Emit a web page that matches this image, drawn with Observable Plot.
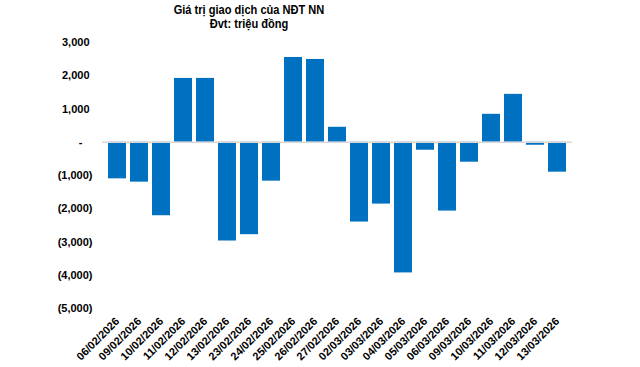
<!DOCTYPE html>
<html>
<head>
<meta charset="utf-8">
<script src="https://cdn.jsdelivr.net/npm/d3@7"></script>
<script src="https://cdn.jsdelivr.net/npm/@observablehq/plot@0.6"></script>
<style>
  html, body { margin: 0; padding: 0; background: #fff; }
  #wrap { position: relative; width: 640px; height: 367px; font-family: "Liberation Sans", Arial, sans-serif; }
  #title { position: absolute; left: 129px; width: 240px; top: 3px; text-align: center; font-weight: bold; font-size: 13.5px; line-height: 14px; color: #000; transform: scaleX(0.82); transform-origin: 120px 0; }
</style>
</head>
<body>
<div id="wrap">
  <div id="chart"></div>
  <div id="title">Giá trị giao dịch của NĐT NN<br>Đvt: triệu đồng</div>
</div>
<script>
const dates = ["06/02/2026","09/02/2026","10/02/2026","11/02/2026","12/02/2026","13/02/2026","23/02/2026","24/02/2026","25/02/2026","26/02/2026","27/02/2026","02/03/2026","03/03/2026","04/03/2026","05/03/2026","06/03/2026","09/03/2026","10/03/2026","11/03/2026","12/03/2026","13/03/2026"];
const values = [-1100,-1200,-2210,1920,1920,-2970,-2780,-1170,2550,2490,450,-2400,-1860,-3930,-240,-2070,-600,840,1440,-90,-900];
const posTicks = [1000, 2000, 3000];
const zeroTicks = [0];
const negTicks = [-1000, -2000, -3000, -4000, -5000];

const data = dates.map((d, i) => ({date: d, value: values[i]}));
const fmt = d3.format(",");
const acct = v => v === 0 ? "-" : v < 0 ? "(" + fmt(-v) + ")" : fmt(v);

const axisStyle = {fontSize: 11, fontWeight: "bold", fill: "#000"};

const chart = Plot.plot({
  width: 640,
  height: 367,
  marginLeft: 102,
  marginRight: 68,
  marginTop: 42,
  marginBottom: 59,
  style: {fontFamily: "'Liberation Sans', Arial, sans-serif", fontSize: "11px", fontWeight: "bold", color: "#000", background: "#fff"},
  x: {domain: dates, paddingInner: 0.2, paddingOuter: 0.1, label: null},
  y: {domain: [-5000, 3000], label: null},
  marks: [
    Plot.barY(data, {x: "date", y: "value", fill: "#0070C0"}),
    Plot.ruleY([0], {stroke: "#D9D9D9", strokeWidth: 1.5}),
    Plot.axisY({ticks: posTicks, tickFormat: acct, tickSize: 0, tickPadding: 13, label: null, ...axisStyle}),
    Plot.axisY({ticks: zeroTicks, tickFormat: acct, tickSize: 0, tickPadding: 20, label: null, ...axisStyle}),
    Plot.axisY({ticks: negTicks, tickFormat: acct, tickSize: 0, tickPadding: 10, label: null, ...axisStyle}),
    Plot.axisX({tickSize: 0, tickPadding: 11, tickRotate: -45, label: null, ...axisStyle})
  ]
});
document.getElementById("chart").appendChild(chart);
</script>
</body>
</html>
